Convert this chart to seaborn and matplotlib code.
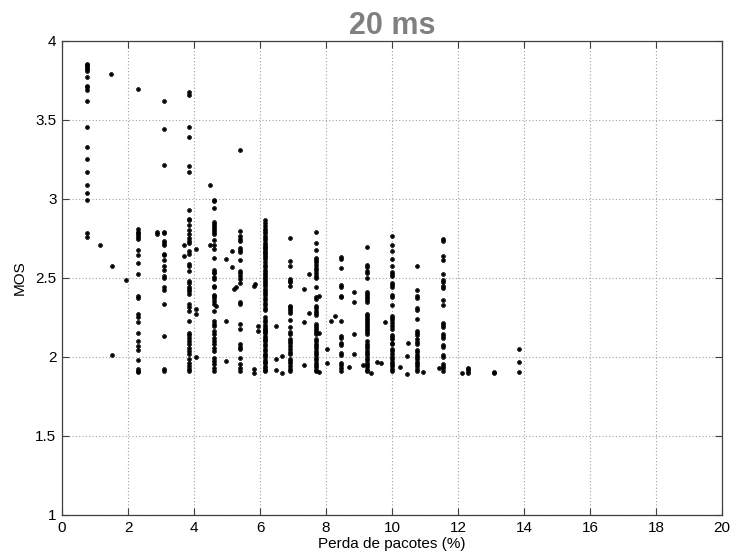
import numpy as np
import pandas as pd
import matplotlib
matplotlib.use("Agg")
import matplotlib.pyplot as plt
import seaborn as sns

# MOS samples grouped by packet-loss level (%)
loss_levels = [0.77, 2.31, 3.08, 3.85, 4.62, 5.38, 6.15, 6.92, 7.69, 8.46,
               9.23, 10.00, 10.77, 11.54, 12.31, 13.08, 13.85]

mos_077 = [3.856, 3.848, 3.839, 3.830, 3.822, 3.809, 3.771, 3.718, 3.712, 3.689,
           3.619, 3.454, 3.327, 3.250, 3.170, 3.089, 3.041, 2.992, 2.784, 2.759]
mos_231 = [3.697, 2.807, 2.794, 2.782, 2.769, 2.757, 2.746, 2.679, 2.643, 2.598,
           2.528, 2.388, 2.374, 2.272, 2.250, 2.219, 2.149, 2.104, 2.072, 2.047,
           1.980, 1.924, 1.912, 1.905]
mos_308 = [3.619, 3.445, 3.216, 2.794, 2.782, 2.733, 2.720, 2.708, 2.653, 2.645,
           2.617, 2.577, 2.548, 2.515, 2.502, 2.440, 2.427, 2.338, 2.135, 1.922, 1.910]
mos_385 = [3.675, 3.660, 3.454, 3.392, 3.212, 3.172, 2.933, 2.876, 2.869, 2.833,
           2.806, 2.780, 2.755, 2.731, 2.720, 2.674, 2.653, 2.589, 2.579, 2.547,
           2.483, 2.470, 2.445, 2.431, 2.416, 2.399, 2.335, 2.318, 2.293, 2.225,
           2.155, 2.140, 2.123, 2.102, 2.081, 2.060, 2.039, 2.022, 1.986, 1.964,
           1.943, 1.922, 1.910]
mos_462 = [2.996, 2.987, 2.945, 2.854, 2.844, 2.831, 2.818, 2.806, 2.793, 2.780,
           2.742, 2.706, 2.685, 2.628, 2.551, 2.541, 2.530, 2.505, 2.494, 2.452,
           2.441, 2.395, 2.384, 2.371, 2.356, 2.335, 2.293, 2.229, 2.212, 2.198,
           2.166, 2.145, 2.123, 2.102, 2.081, 2.060, 2.039, 1.996, 1.975, 1.954,
           1.933, 1.910]
mos_538 = [3.310, 2.797, 2.763, 2.748, 2.733, 2.691, 2.679, 2.666, 2.611, 2.547,
           2.530, 2.515, 2.494, 2.466, 2.346, 2.335, 2.212, 2.176, 2.081, 2.066,
           2.050, 1.996, 1.954, 1.933, 1.910]
mos_615 = [2.864, 2.845, 2.830, 2.812, 2.798, 2.782, 2.768, 2.752, 2.738, 2.722,
           2.710, 2.698, 2.688, 2.677, 2.667, 2.656, 2.645, 2.635, 2.620, 2.602,
           2.584, 2.570, 2.553, 2.540, 2.524, 2.510, 2.500, 2.488, 2.472, 2.460,
           2.448, 2.432, 2.420, 2.402, 2.390, 2.372, 2.360, 2.342, 2.330, 2.312,
           2.300, 2.250, 2.232, 2.220, 2.202, 2.190, 2.180, 2.170, 2.160, 2.150,
           2.132, 2.120, 2.110, 2.100, 2.082, 2.070, 2.052, 2.040, 2.022, 2.010,
           2.000, 1.982, 1.970, 1.960, 1.942, 1.930, 1.920, 1.910]
mos_692 = [2.752, 2.606, 2.574, 2.494, 2.483, 2.473, 2.452, 2.325, 2.314, 2.304,
           2.291, 2.278, 2.234, 2.187, 2.160, 2.147, 2.113, 2.102, 2.091, 2.071,
           2.050, 2.032, 2.018, 1.990, 1.975, 1.961, 1.943, 1.926, 1.910]
mos_769 = [2.790, 2.723, 2.680, 2.625, 2.612, 2.600, 2.583, 2.566, 2.549, 2.532,
           2.515, 2.498, 2.441, 2.382, 2.367, 2.325, 2.308, 2.293, 2.278, 2.266,
           2.208, 2.198, 2.185, 2.172, 2.160, 2.147, 2.113, 2.100, 2.085, 2.070,
           2.055, 2.040, 2.025, 2.010, 1.995, 1.980, 1.965, 1.950, 1.935, 1.920,
           1.910]
mos_846 = [2.632, 2.621, 2.562, 2.456, 2.443, 2.388, 2.377, 2.229, 2.134, 2.121,
           2.091, 2.079, 2.028, 2.015, 1.964, 1.948, 1.931, 1.910]
mos_923 = [2.695, 2.583, 2.572, 2.545, 2.532, 2.498, 2.414, 2.401, 2.388, 2.376,
           2.363, 2.350, 2.272, 2.262, 2.249, 2.236, 2.224, 2.211, 2.198, 2.185,
           2.173, 2.160, 2.147, 2.100, 2.085, 2.070, 2.055, 2.040, 2.025, 2.010,
           1.995, 1.980, 1.965, 1.950, 1.935, 1.920, 1.910]
mos_1000 = [2.765, 2.710, 2.670, 2.621, 2.579, 2.541, 2.526, 2.515, 2.469, 2.456,
            2.441, 2.393, 2.380, 2.329, 2.261, 2.248, 2.236, 2.215, 2.198, 2.176,
            2.138, 2.126, 2.113, 2.090, 2.080, 2.050, 2.035, 2.020, 2.000, 1.985,
            1.970, 1.955, 1.940, 1.925, 1.910]
mos_1077 = [2.574, 2.424, 2.384, 2.371, 2.308, 2.297, 2.240, 2.166, 2.155, 2.142,
            2.113, 2.096, 2.081, 2.045, 2.030, 2.015, 2.000, 1.985, 1.970, 1.955,
            1.940, 1.925, 1.910]
mos_1154 = [2.744, 2.731, 2.642, 2.611, 2.526, 2.488, 2.477, 2.452, 2.439, 2.363,
            2.329, 2.215, 2.202, 2.189, 2.147, 2.134, 2.121, 2.076, 2.064, 2.012,
            2.000, 1.954, 1.940, 1.930, 1.910]
mos_1231 = [1.933, 1.922, 1.911, 1.900]
mos_1308 = [1.907, 1.897]
mos_1385 = [2.050, 1.971, 1.907]

# Isolated measurements between the regular loss levels
extra_loss = [1.49, 1.14, 1.52, 1.94, 1.52, 2.89, 2.89, 3.70, 3.70, 4.07,
              4.07, 4.07, 4.07, 4.49, 4.49, 4.66, 4.96, 4.96, 4.96, 5.15,
              5.15, 5.22, 5.26, 5.82, 5.85, 5.82, 5.82, 5.95, 5.95, 6.47,
              6.47, 6.47, 6.67, 6.67, 7.33, 7.33, 7.33, 7.47, 7.47, 7.80,
              7.80, 7.80, 8.02, 8.02, 8.15, 8.27, 8.70, 8.86, 8.86, 8.86,
              8.86, 9.12, 9.36, 9.55, 9.68, 9.79, 10.24, 10.45, 10.49, 10.45,
              10.93, 11.43, 12.11]
extra_mos = [3.788, 2.708, 2.577, 2.485, 2.013, 2.790, 2.780, 2.706, 2.640, 2.682,
             2.304, 2.272, 2.000, 3.087, 2.706, 2.320, 2.621, 2.225, 1.975, 2.674,
             2.571, 2.430, 2.440, 2.452, 2.460, 1.922, 1.900, 2.198, 2.166, 2.198,
             1.986, 1.916, 2.005, 1.900, 2.431, 2.220, 1.948, 2.526, 2.278, 2.386,
             2.149, 1.907, 2.050, 1.964, 2.230, 2.258, 1.937, 2.414, 2.346, 2.145,
             2.018, 1.950, 1.897, 1.971, 1.963, 2.219, 1.939, 1.895, 2.091, 2.005,
             1.905, 1.933, 1.897]

groups = [mos_077, mos_231, mos_308, mos_385, mos_462, mos_538, mos_615, mos_692,
          mos_769, mos_846, mos_923, mos_1000, mos_1077, mos_1154, mos_1231,
          mos_1308, mos_1385]

loss = [lv for lv, g in zip(loss_levels, groups) for _ in g] + extra_loss
mos = [v for g in groups for v in g] + extra_mos
df = pd.DataFrame({"loss": loss, "mos": mos})

sns.set_theme(style="white")
plt.rcParams["font.family"] = ["Liberation Sans", "DejaVu Sans"]

fig = plt.figure(figsize=(7.33, 5.54), dpi=100)
ax = fig.add_axes([0.0846, 0.0704, 0.9004, 0.8556])

sns.scatterplot(data=df, x="loss", y="mos", ax=ax, marker="P", s=9,
                color="black", edgecolor="black", linewidth=0.4,
                legend=False, zorder=3)

ax.set_xlim(0, 20)
ax.set_ylim(1, 4)
ax.set_xticks(np.arange(0, 21, 2))
ax.set_yticks([1, 1.5, 2, 2.5, 3, 3.5, 4])
ax.set_yticklabels(["1", "1.5", "2", "2.5", "3", "3.5", "4"])
ax.grid(True, linestyle=(0, (1, 2)), color="#a0a0a0", linewidth=0.8)
ax.tick_params(direction="in", length=5, width=0.8, colors="#404040",
               labelcolor="black", labelsize=11, top=True, right=True,
               bottom=True, left=True, pad=4)
for sp in ax.spines.values():
    sp.set_color("#404040")
    sp.set_linewidth(0.9)

ax.set_xlabel("Perda de pacotes (%)", fontsize=11, color="black", labelpad=2)
ax.set_ylabel("MOS", fontsize=11, color="black", labelpad=6)
ax.set_title("20 ms", fontsize=22, fontweight="bold", color="#808080", pad=5)

fig.savefig("out.png", dpi=100)
